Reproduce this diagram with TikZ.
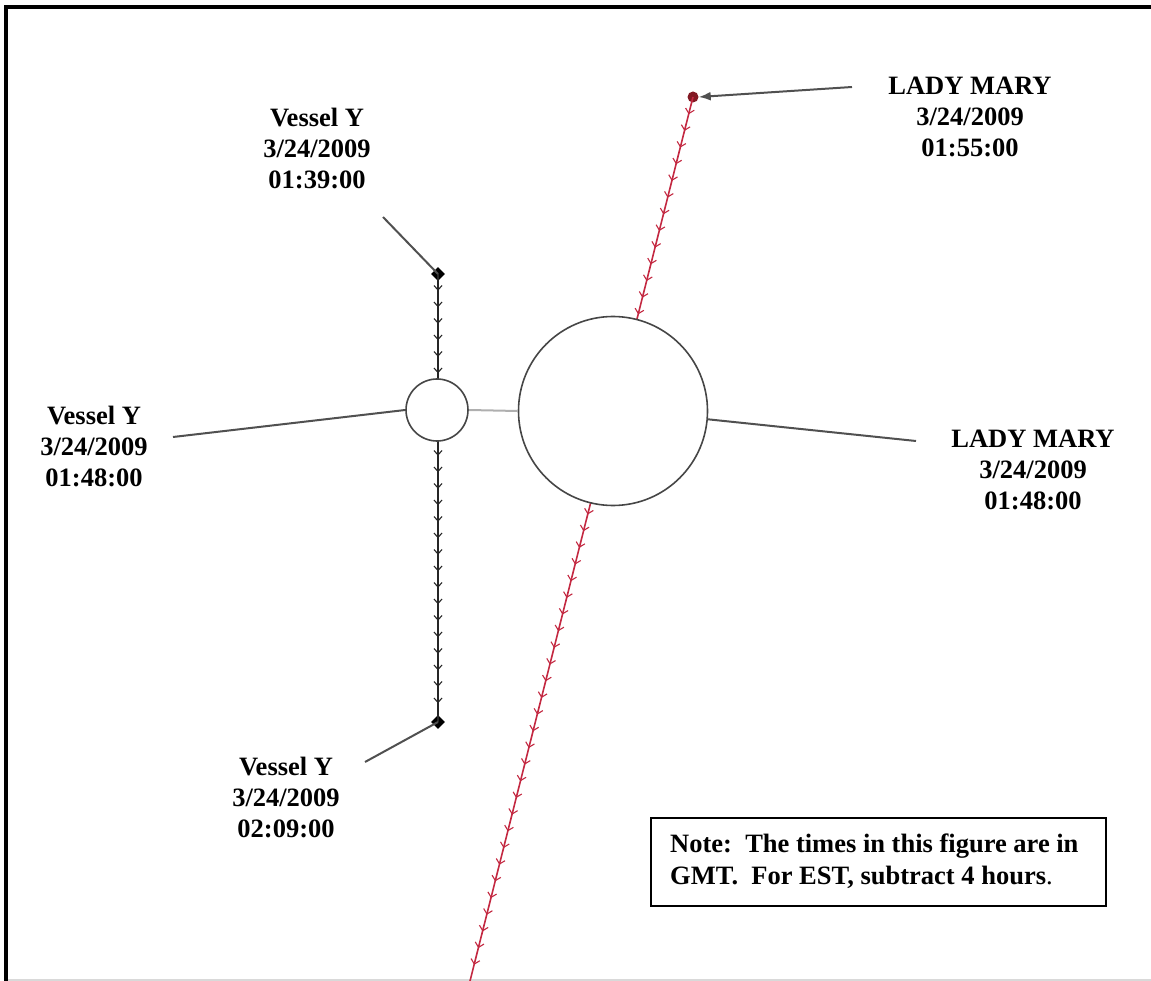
\documentclass[tikz,border=0pt]{standalone}
\usepackage{fontspec}
\setmainfont{Liberation Serif}
\usetikzlibrary{decorations.markings,arrows.meta,shapes.geometric}
\definecolor{trackred}{RGB}{195,40,65}
\definecolor{dotred}{RGB}{130,25,35}
\definecolor{linegray}{RGB}{80,80,80}
\definecolor{circgray}{RGB}{70,70,70}
\definecolor{lightline}{RGB}{175,175,175}
\begin{document}
\begin{tikzpicture}[x=1pt,y=-1pt,
  lbl/.style={font=\bfseries\fontsize{26.5}{31}\selectfont, align=center, inner sep=0pt},
  leader/.style={draw=linegray, line width=2pt},
  vtrack/.style={draw=black!85, line width=1.6pt, postaction={decorate},
    decoration={markings, mark=between positions 16pt and 0.99 step 16.5pt with {\draw[line width=1.1pt] (-4.5,-4) -- (0,0) -- (-4.5,4);}}},
  rtrack/.style={draw=trackred, line width=1.6pt, postaction={decorate},
    decoration={markings, mark=between positions 17pt and 0.995 step 17.2pt with {\draw[trackred, line width=1.1pt] (-4.5,-4.5) -- (0,0) -- (-4.5,4.5);}}},
  dmd/.style={diamond, fill=black, inner sep=0pt, minimum size=14pt},
  ring/.style={circle, draw=circgray, line width=1.6pt, fill=white, inner sep=0pt}
]
\useasboundingbox (0,0) rectangle (1151,981);
% frame
\draw[black, line width=4pt] (6,981) -- (6,7) -- (1151,7);
\draw[black!15, line width=2pt] (8,980) -- (1151,980);

% vessel Y track
\node[dmd] (d1) at (438,274) {};
\node[dmd] (d2) at (438,722) {};
\draw[vtrack] (d1.center) -- (d2.center);

% Lady Mary track
\node[circle, fill=dotred, inner sep=0pt, minimum size=11pt] (rd) at (693,97) {};
\coordinate (rend) at (470,981);
\draw[rtrack] (rd.center) -- (rend);

% circles
\node[ring, minimum size=62pt] (sc) at (437,410) {};
\node[ring, minimum size=189pt] (bc) at (613,411) {};
\draw[lightline, line width=2pt] (sc.east) -- (bc.west);

% labels
\node[lbl] (vy1) at (317,148) {Vessel Y\\3/24/2009\\01:39:00};
\node[lbl] (vy2) at (94,446) {Vessel Y\\3/24/2009\\01:48:00};
\node[lbl] (vy3) at (286,797) {Vessel Y\\3/24/2009\\02:09:00};
\node[lbl] (lm1) at (970,117) {LADY MARY\\3/24/2009\\01:55:00};
\node[lbl] (lm2) at (1033,470) {LADY MARY\\3/24/2009\\01:48:00};

% leaders
\coordinate (a1) at (383,217);
\coordinate (a2) at (173,437);
\coordinate (a3) at (365,762);
\coordinate (a4) at (916,441);
\coordinate (a5) at (852,87);
\draw[leader] (a1) -- (d1.center);
\draw[leader] (a2) -- (sc.west);
\draw[leader] (a3) -- (d2.center);
\draw[leader] (a4) -- (bc.355);
\draw[leader, -{Latex[length=12pt,width=9pt]}] (a5) -- (rd.east);

% note
\node[draw=black, line width=2.8pt, minimum width=455pt, minimum height=88pt, inner sep=0pt] (note) at (878.5,862) {};
\node[anchor=west, inner sep=0pt, align=left, font=\bfseries\fontsize{26.5}{32}\selectfont] (notetext) at (670,861)
  {Note:\ \ The times in this figure are in\\GMT.\ \ For EST, subtract 4 hours{\mdseries.}};
\end{tikzpicture}
\end{document}
